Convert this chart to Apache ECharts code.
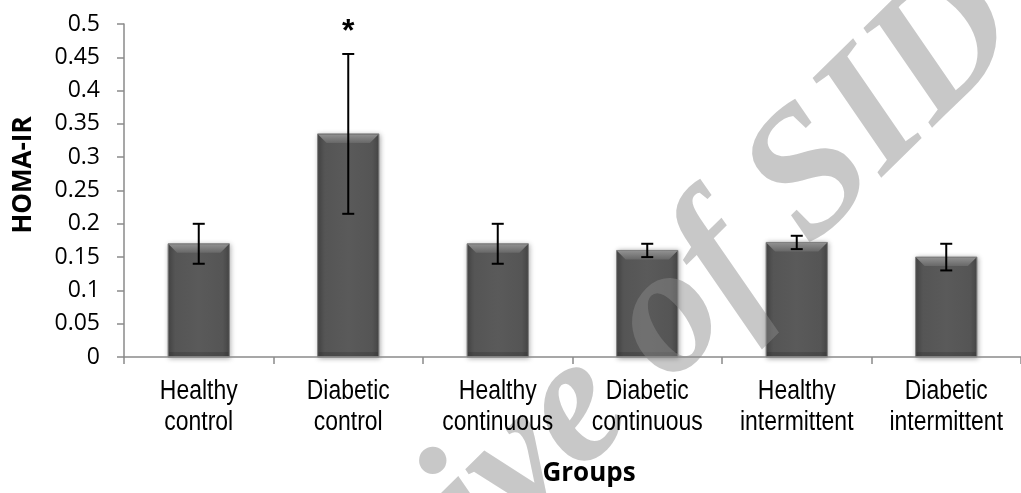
<!DOCTYPE html>
<html>
<head>
<meta charset="utf-8">
<title>HOMA-IR by group</title>
<script src="https://cdn.jsdelivr.net/npm/echarts@6/dist/echarts.min.js"></script>
<style>
  html, body { margin: 0; padding: 0; background: #ffffff; }
  #chart { width: 1021px; height: 493px; }
</style>
</head>
<body>
<div id="chart"></div>
<script>
// Groups on the x axis
const categories = [
  'Healthy\ncontrol',
  'Diabetic\ncontrol',
  'Healthy\ncontinuous',
  'Diabetic\ncontinuous',
  'Healthy\nintermittent',
  'Diabetic\nintermittent'
];
// Mean HOMA-IR per group and its error (± half-length of the error bar)
const means = [0.17, 0.335, 0.17, 0.16, 0.172, 0.15];
const errors = [0.03, 0.12, 0.03, 0.01, 0.01, 0.02];
// Significance marker drawn above each error bar
const significance = ['', '*', '', '', '', ''];
// Value axis tick labels
const yTickLabels = ['0', '0.05', '0.1', '0.15', '0.2', '0.25', '0.3', '0.35', '0.4', '0.45', '0.5'];

const chart = echarts.init(document.getElementById('chart'), null, { renderer: 'canvas' });

const barData = means.map((m, i) => [i, m]);
const errData = means.map((m, i) => [i, m, errors[i]]);
const labelData = categories.map((c, i) => [i, 0]);

function renderBar(params, api) {
  const idx = api.value(0);
  const v = api.value(1);
  const top = api.coord([idx, v]);
  const base = api.coord([idx, 0]);
  const w = api.size([1, 0])[0] * 0.41;
  const x0 = top[0] - w / 2;
  const y0 = top[1];
  const h = base[1] - top[1];
  const b = Math.min(9, h / 2);
  return {
    type: 'group',
    children: [
      {
        type: 'rect',
        shape: { x: x0, y: y0, width: w, height: h },
        style: {
          fill: new echarts.graphic.LinearGradient(0, 0, 1, 0, [
            { offset: 0, color: '#474747' },
            { offset: 0.12, color: '#555555' },
            { offset: 0.5, color: '#5a5a5a' },
            { offset: 0.88, color: '#555555' },
            { offset: 1, color: '#474747' }
          ]),
          stroke: '#808080',
          lineWidth: 1,
          shadowBlur: 5,
          shadowColor: 'rgba(0,0,0,0.35)',
          shadowOffsetX: 1,
          shadowOffsetY: 1
        }
      },
      {
        // bevelled top face
        type: 'polygon',
        shape: { points: [[x0 + 0.5, y0 + 0.5], [x0 + w - 0.5, y0 + 0.5], [x0 + w - b, y0 + b], [x0 + b, y0 + b]] },
        style: {
          fill: new echarts.graphic.LinearGradient(0, 0, 0, 1, [
            { offset: 0, color: '#909090' },
            { offset: 1, color: '#686868' }
          ])
        }
      },
      {
        // slightly darker foot of the bar
        type: 'rect',
        shape: { x: x0 + 1, y: base[1] - 5, width: w - 2, height: 4 },
        style: { fill: 'rgba(0,0,0,0.12)' }
      }
    ]
  };
}

function renderError(params, api) {
  const idx = api.value(0);
  const m = api.value(1);
  const e = api.value(2);
  const hi = api.coord([idx, m + e]);
  const lo = api.coord([idx, m - e]);
  const cap = 6;
  const style = { stroke: '#000000', lineWidth: 2 };
  const children = [
    { type: 'line', shape: { x1: hi[0], y1: hi[1], x2: lo[0], y2: lo[1] }, style },
    { type: 'line', shape: { x1: hi[0] - cap, y1: hi[1], x2: hi[0] + cap, y2: hi[1] }, style },
    { type: 'line', shape: { x1: lo[0] - cap, y1: lo[1], x2: lo[0] + cap, y2: lo[1] }, style }
  ];
  const mark = significance[params.dataIndex];
  if (mark) {
    children.push({
      type: 'text',
      x: hi[0],
      y: hi[1] - 22,
      style: {
        text: mark,
        font: 'bold 32px "Liberation Sans"',
        fill: '#000000',
        align: 'center',
        verticalAlign: 'middle'
      }
    });
  }
  return { type: 'group', children };
}

// Category names under the axis, set in a narrow face
function renderCategoryLabel(params, api) {
  const idx = api.value(0);
  const p = api.coord([idx, 0]);
  return {
    type: 'text',
    x: p[0],
    y: p[1] + 19,
    scaleX: 0.85,
    z2: 20,
    style: {
      text: categories[params.dataIndex],
      font: '27px "Liberation Sans"',
      lineHeight: 31,
      fill: '#000000',
      align: 'center',
      verticalAlign: 'top'
    }
  };
}

const option = {
  animation: false,
  backgroundColor: '#ffffff',
  grid: { left: 124, top: 24, width: 906, height: 333, containLabel: false },
  xAxis: {
    type: 'category',
    data: categories,
    z: 10,
    boundaryGap: true,
    axisLine: { lineStyle: { color: '#8a8a8a', width: 1.5 } },
    axisTick: { show: true, alignWithLabel: false, length: 7, lineStyle: { color: '#8a8a8a', width: 1.5 } },
    axisLabel: { show: false },
    splitLine: { show: false }
  },
  yAxis: {
    type: 'value',
    min: 0,
    max: 0.5,
    interval: 0.05,
    z: 10,
    axisLine: { show: true, lineStyle: { color: '#8a8a8a', width: 1.5 } },
    axisTick: { show: true, length: 7, lineStyle: { color: '#8a8a8a', width: 1.5 } },
    axisLabel: {
      color: '#000000',
      fontFamily: '"Open Sans", sans-serif',
      fontSize: 23,
      margin: 24,
      formatter: (v) => yTickLabels[Math.round(v / 0.05)]
    },
    splitLine: { show: false }
  },
  graphic: [
    {
      type: 'text',
      x: 24,
      y: 175,
      rotation: Math.PI / 2,
      z: 10,
      style: {
        text: 'HOMA-IR',
        font: 'bold 26px "Open Sans"',
        fill: '#000000',
        align: 'center',
        verticalAlign: 'middle'
      }
    },
    {
      type: 'text',
      x: 589,
      y: 474,
      z: 10,
      style: {
        text: 'Groups',
        font: 'bold 26px "Open Sans"',
        fill: '#000000',
        align: 'center',
        verticalAlign: 'middle'
      }
    },
    {
      type: 'text',
      x: 590,
      y: 398,
      rotation: 44.5 * Math.PI / 180,
      z: 5,
      silent: true,
      style: {
        text: 'Archive of SID',
        font: 'italic bold 182px "Liberation Serif"',
        fill: 'rgba(138,138,138,0.47)',
        align: 'center',
        verticalAlign: 'middle'
      }
    }
  ],
  series: [
    {
      type: 'custom',
      z: 2,
      renderItem: renderBar,
      data: barData,
      encode: { x: 0, y: 1 }
    },
    {
      type: 'custom',
      z: 3,
      renderItem: renderError,
      data: errData,
      encode: { x: 0, y: [1] }
    },
    {
      type: 'custom',
      z: 20,
      clip: false,
      renderItem: renderCategoryLabel,
      data: labelData,
      encode: { x: 0, y: 1 }
    }
  ]
};

chart.setOption(option);
</script>
</body>
</html>
